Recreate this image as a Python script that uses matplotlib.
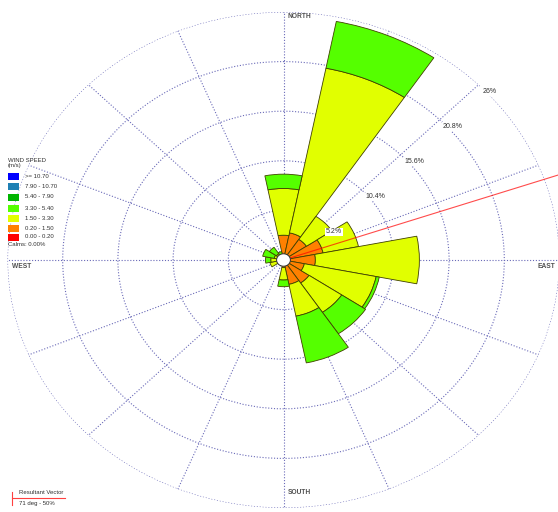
import numpy as np
import matplotlib
matplotlib.use("Agg")
import matplotlib.pyplot as plt
from matplotlib.patches import Rectangle

W, H = 558, 512

# ---------------- data ----------------
directions = ['N', 'NNE', 'NE', 'ENE', 'E', 'ESE', 'SE', 'SSE',
              'S', 'SSW', 'SW', 'WSW', 'W', 'WNW', 'NW', 'NNW']
direction_deg = [0, 22.5, 45, 67.5, 90, 112.5, 135, 157.5,
                 180, 202.5, 225, 247.5, 270, 292.5, 315, 337.5]

speed_classes = ['0.00 - 0.20', '0.20 - 1.50', '1.50 - 3.30', '3.30 - 5.40',
                 '5.40 - 7.90', '7.90 - 10.70', '>= 10.70']
class_colors = ['#ff0000', '#ff8000', '#e1ff00', '#55ff00',
                '#00b400', '#1e80b4', '#0000ff']

# frequency (%) per direction for each speed class
freq_000_020 = [0, 0, 0, 0, 0, 0, 0, 0, 0, 0, 0, 0, 0, 0, 0, 0]
freq_020_150 = [2.6, 2.9, 2.6, 3.8, 3.0, 2.0, 2.9, 2.6, 0.8, 0.3, 0.2, 0.3, 0.3, 0.3, 0.3, 0.2]
freq_150_330 = [4.9, 17.6, 2.9, 3.4, 9.8, 6.9, 3.7, 3.4, 1.3, 0.3, 0.2, 1.0, 0.9, 0.6, 0.5, 0.3]
freq_330_540 = [1.5, 5.0, 0, 0, 0, 0.3, 2.7, 5.0, 0.7, 0, 0, 0, 0.5, 1.1, 0.8, 0.4]
freq_540_790 = [0, 0, 0, 0, 0, 0, 0, 0, 0, 0, 0, 0, 0, 0, 0, 0]
freq_790_1070 = [0, 0, 0, 0, 0, 0, 0, 0, 0, 0, 0, 0, 0, 0, 0, 0]
freq_ge_1070 = [0, 0, 0, 0, 0, 0, 0, 0, 0, 0, 0, 0, 0, 0, 0, 0]

ring_values = [5.2, 10.4, 15.6, 20.8, 26]
ring_labels = ['5.2%', '10.4%', '15.6%', '20.8%', '26%']
calms_pct = 0.00
resultant_deg = 71
resultant_text = '71 deg - 50%'

# ---------------- figure ----------------
fig = plt.figure(figsize=(W / 100, H / 100), dpi=100)
fig.patch.set_facecolor('white')

cx, cy = 283.5, 260
rx, ry = 276, 248
ax = fig.add_axes([(cx - rx) / W, 1 - (cy + ry) / H, 2 * rx / W, 2 * ry / H],
                  projection='polar')
ax.set_aspect('auto')
ax.set_theta_zero_location('N')
ax.set_theta_direction(-1)
ax.set_ylim(0, ring_values[-1])
ax.set_facecolor('white')
ax.spines['polar'].set_visible(False)
ax.set_axisbelow(True)

grid_col = '#6a6ab8'
ax.set_thetagrids(np.arange(0, 360, 22.5), labels=[])
ax.set_rgrids(ring_values, labels=[''] * len(ring_values))
ax.grid(True, color=grid_col, linestyle=(0, (1.0, 1.6)), linewidth=0.8)
ax.tick_params(length=0)

theta = np.deg2rad(direction_deg)
width = np.deg2rad(22.5)
series = [freq_000_020, freq_020_150, freq_150_330, freq_330_540,
          freq_540_790, freq_790_1070, freq_ge_1070]
bottom = np.zeros(len(directions))
for vals, col in zip(series, class_colors):
    vals = np.asarray(vals, dtype=float)
    m = vals > 0
    if m.any():
        ax.bar(theta[m], vals[m], width=width, bottom=bottom[m], color=col,
               edgecolor='#404000', linewidth=0.6, align='center', zorder=3)
    bottom = bottom + vals

# calm circle
tt = np.linspace(0, 2 * np.pi, 120)
ax.fill(tt, np.full_like(tt, 0.65), facecolor='white', edgecolor='#303030',
        linewidth=0.7, zorder=6)

# resultant vector
ax.plot([np.deg2rad(resultant_deg)] * 2, [0, 30], color='#ff0000', lw=0.8,
        alpha=0.7, zorder=5, clip_on=False)

# ring labels along the NE spoke
for rv, lab in zip(ring_values, ring_labels):
    ax.annotate(lab, xy=(np.deg2rad(45), rv), xytext=(2.5, -2.5),
                textcoords='offset points', ha='left', va='top',
                fontsize=5, family='Liberation Sans', color='#303030', zorder=7,
                bbox=dict(boxstyle='square,pad=0.1', fc='white', ec='none'),
                annotation_clip=False)

# direction labels
def ftext(x, y, s, **kw):
    fig.text(x / W, 1 - y / H, s, **kw)

lab_kw = dict(fontsize=4.8, family='Liberation Sans', color='#505050',
              fontweight='bold', va='center', ha='left')
ftext(287, 17, 'NORTH', **lab_kw)
ftext(537, 266, 'EAST', **lab_kw)
ftext(12, 266, 'WEST', **lab_kw)
ftext(288, 493, 'SOUTH', **lab_kw)

# wind speed legend
txt_kw = dict(fontsize=4.3, family='Liberation Sans', color='#303030',
              va='center', ha='left')
ftext(8, 160, 'WIND SPEED', **txt_kw)
ftext(8, 166, '(m/s)', **txt_kw)
box_y = [176, 186, 197, 208, 218, 228, 237]
for i, (lab, col) in enumerate(zip(speed_classes[::-1], class_colors[::-1])):
    y = box_y[i]
    fig.add_artist(Rectangle((8 / W, 1 - (y + 3.5) / H), 10.5 / W, 7 / H,
                             transform=fig.transFigure, facecolor=col,
                             edgecolor='none'))
    ftext(25, y, lab, **txt_kw)
ftext(8, 245, 'Calms: %.2f%%' % calms_pct, **txt_kw)

# resultant vector legend
fig.add_artist(plt.Line2D([12 / W, 65 / W], [1 - 498 / H, 1 - 498 / H],
                          transform=fig.transFigure, color='#ff4040', lw=0.8))
fig.add_artist(plt.Line2D([12 / W, 12 / W], [1 - 492 / H, 1 - 505 / H],
                          transform=fig.transFigure, color='#ff4040', lw=0.8))
ftext(19, 493, 'Resultant Vector', **txt_kw)
ftext(19, 504, resultant_text, **txt_kw)

fig.savefig('out.png', dpi=100, facecolor='white')
